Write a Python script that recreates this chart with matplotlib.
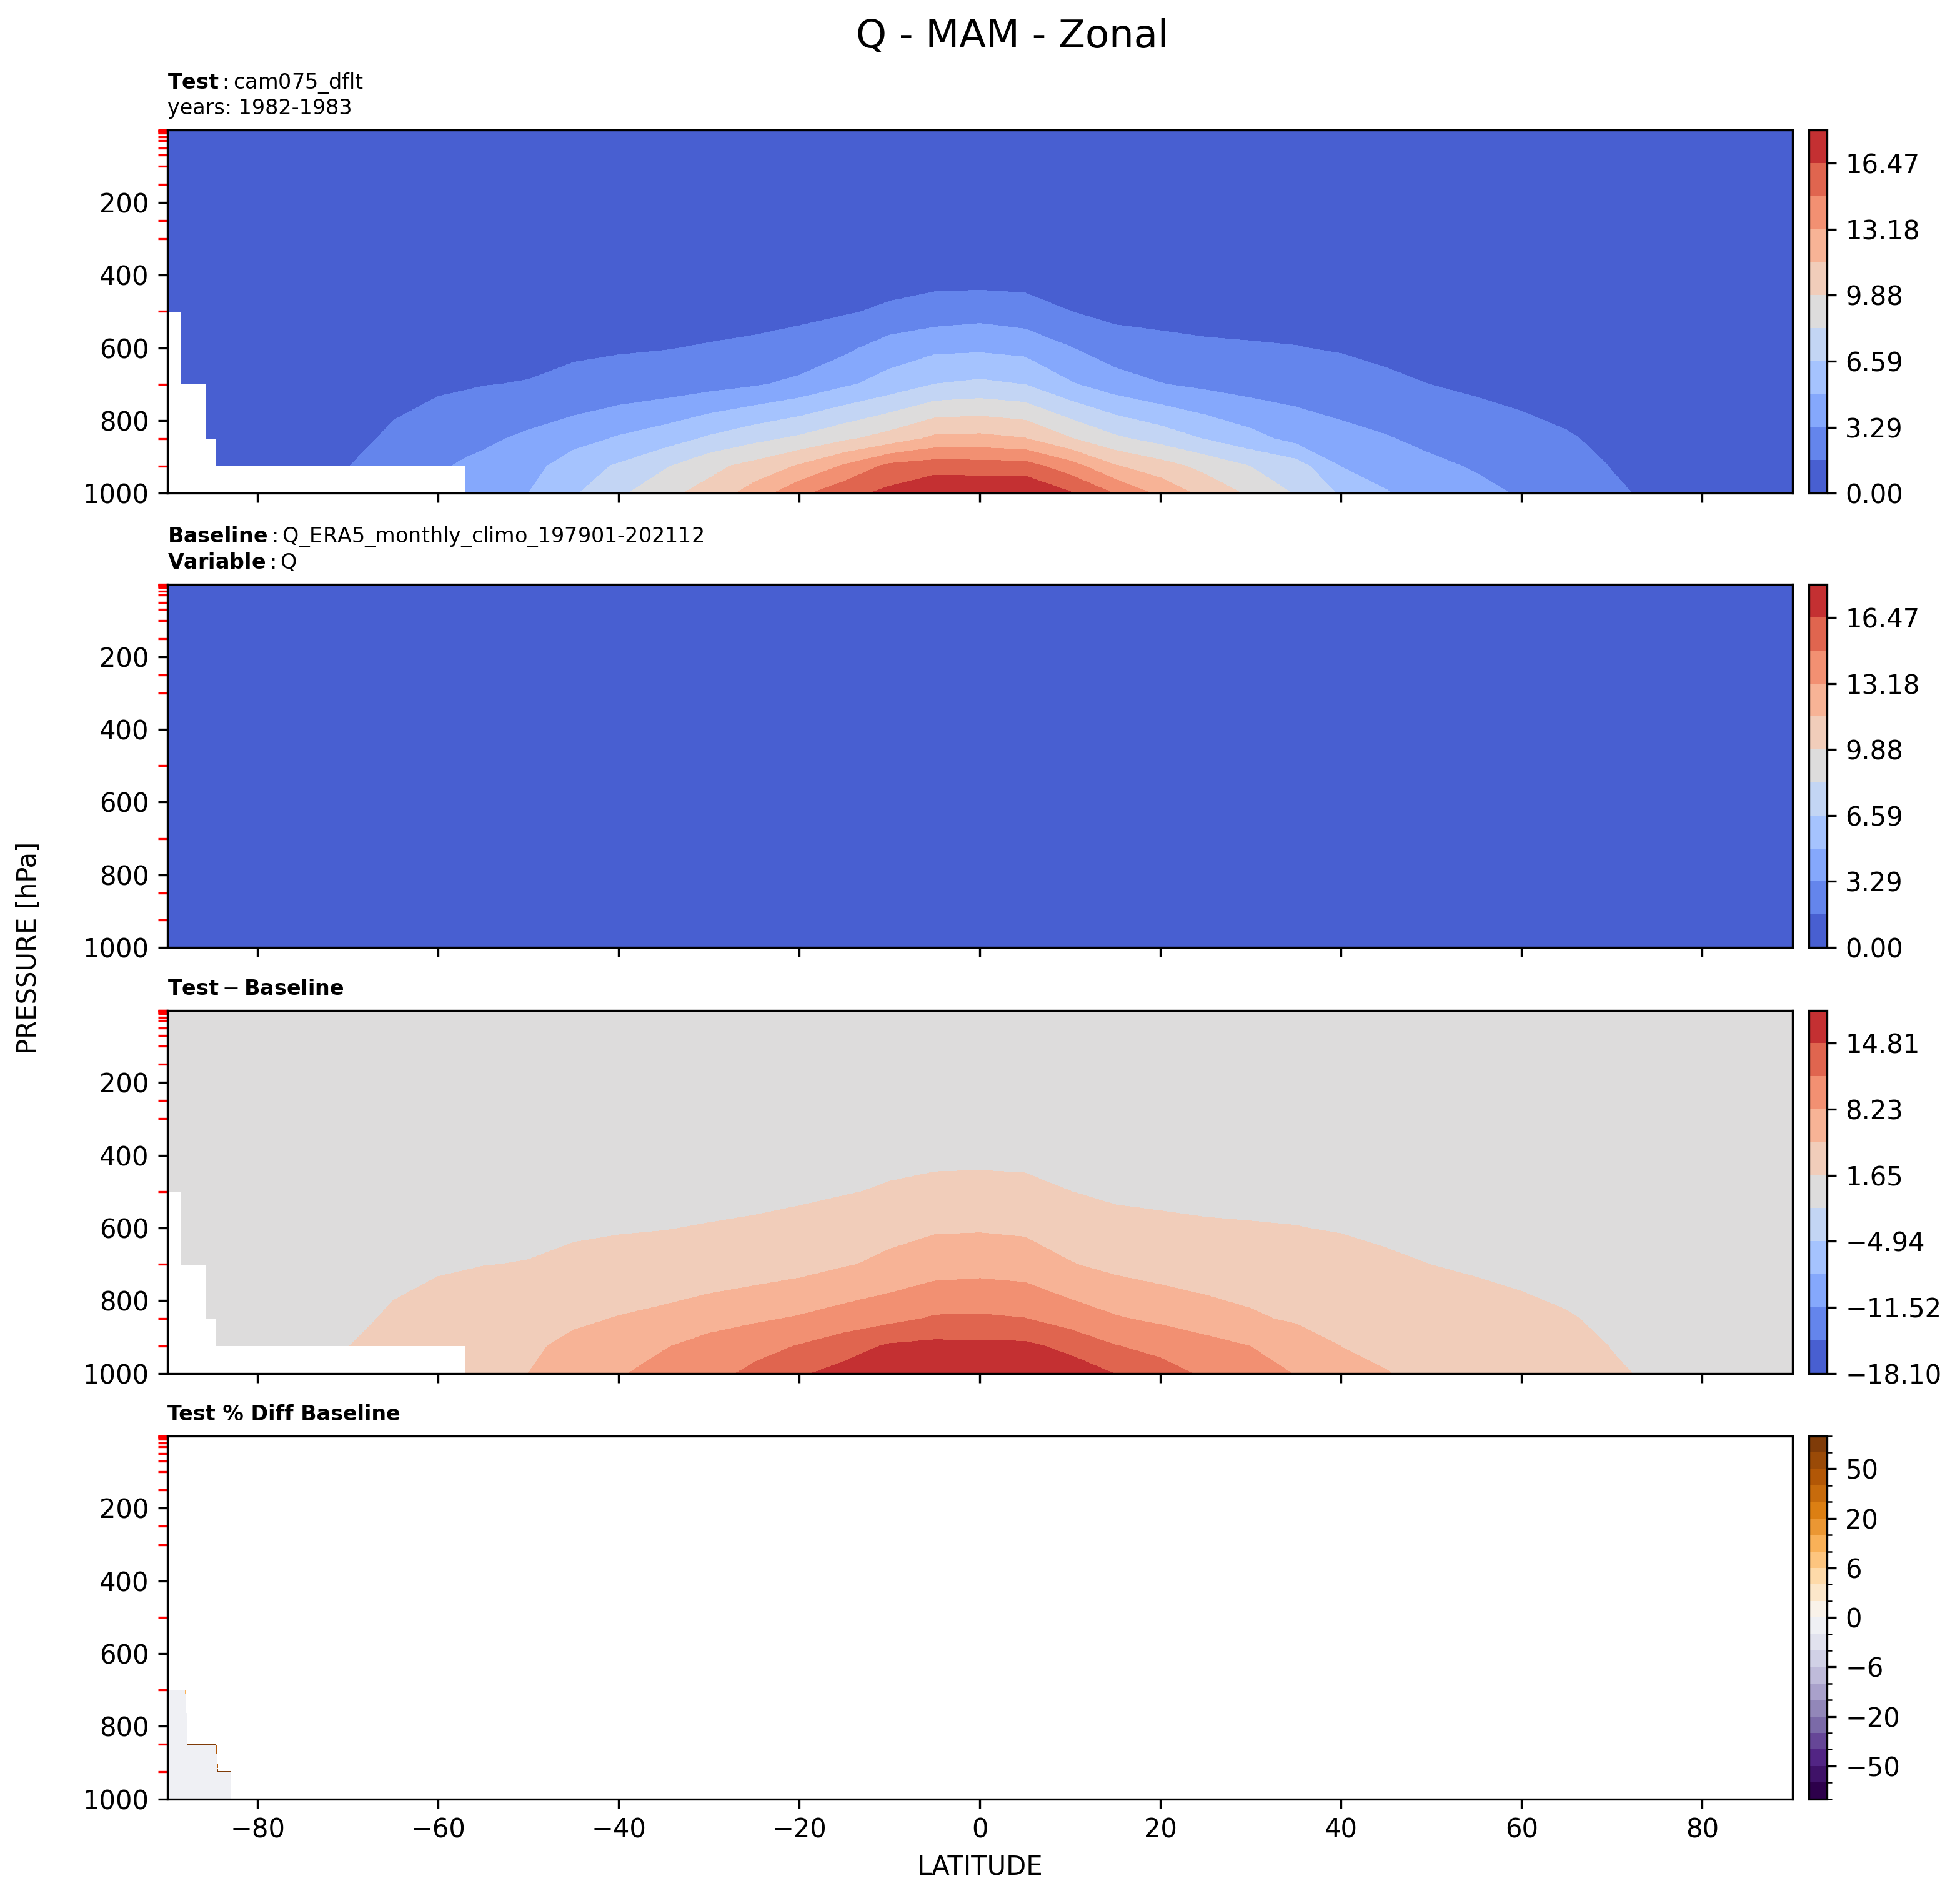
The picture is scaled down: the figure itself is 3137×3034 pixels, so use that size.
import numpy as np
import matplotlib.pyplot as plt
import matplotlib.colors as mcolors

# grid of the zonal means
lat = [-90, -88.5, -88.0, -87.8, -85.7, -84.6, -84.4, -83.0, -82.8, -80,
       -75, -70, -65, -60, -57, -55, -50, -45, -40, -35, -30, -25, -20, -15,
       -10, -5, 0, 5, 10, 15, 20, 25, 30, 35, 40, 45, 50, 55, 60, 65, 70, 75,
       80, 85, 90]
plev = [1000, 925, 850, 700, 600, 500, 400, 300, 250, 200, 150, 100, 70, 50,
        30, 20, 10, 7, 5, 3, 2, 1]

# test specific humidity, g/kg, one row per pressure level
q_1000 = [0.5, 0.5, 0.5, 0.5, 0.6, 0.6, 0.6, 0.7, 0.7, 1.1,
          1.5, 2.0, 2.6, 3.15, 3.9, 4.2, 4.95, 6.4, 7.9, 9.5, 10.4, 12.3, 14.4, 15.95,
          16.9, 18.0, 18.0, 18.12, 16.64, 14.75, 12.8, 11.0, 9.6, 8.1, 6.4, 5.05, 4.2, 3.7,
          3.15, 2.6, 1.85, 1.4, 1.1, 0.9, 0.8]
q_925 = [0.45, 0.45, 0.45, 0.5, 0.55, 0.6, 0.6, 0.7, 0.7, 1.0,
         1.2, 1.62, 2.36, 3.1, 3.5, 3.7, 4.3, 5.85, 6.77, 8.0, 9.45, 10.4, 11.7, 13.38,
         15.25, 15.7, 15.6, 15.5, 13.9, 11.65, 10.55, 9.38, 8.2, 7.33, 4.9, 4.3, 3.6, 3.15,
         2.6, 2.2, 1.6, 1.3, 1.05, 0.85, 0.75]
q_850 = [0.4, 0.4, 0.42, 0.42, 0.5, 0.55, 0.55, 0.6, 0.6, 0.9,
         1.05, 1.35, 1.82, 2.5, 2.8, 3.0, 3.6, 4.3, 5.12, 5.81, 6.84, 7.77, 8.55, 9.6,
         10.6, 11.9, 12.0, 11.6, 10.0, 8.55, 7.6, 6.5, 5.5, 4.4, 3.7, 3.4, 2.9, 2.28,
         2.0, 1.75, 1.4, 1.1, 0.9, 0.75, 0.65]
q_700 = [0.3, 0.3, 0.3, 0.3, 0.35, 0.38, 0.38, 0.42, 0.42, 0.6,
         0.7, 0.9, 1.3, 1.4, 1.5, 1.6, 1.72, 1.9, 2.14, 2.37, 2.71, 3.1, 3.72, 4.68,
         5.59, 6.6, 6.9, 6.55, 5.1, 4.03, 3.35, 2.92, 2.55, 2.5, 2.49, 2.0, 1.63, 1.45,
         1.3, 1.1, 0.9, 0.7, 0.55, 0.45, 0.4]
q_600 = [0.2, 0.2, 0.2, 0.2, 0.24, 0.26, 0.26, 0.3, 0.3, 0.4,
         0.45, 0.55, 0.8, 0.9, 1.0, 1.05, 1.15, 1.48, 1.53, 1.59, 1.74, 1.95, 2.0, 2.92,
         4.04, 4.56, 4.64, 4.4, 3.35, 2.39, 2.1, 1.9, 1.8, 1.7, 1.49, 1.22, 1.05, 0.95,
         0.85, 0.7, 0.55, 0.45, 0.35, 0.3, 0.25]
q_500 = [0.1, 0.1, 0.1, 0.1, 0.12, 0.13, 0.13, 0.15, 0.15, 0.2,
         0.25, 0.3, 0.4, 0.5, 0.55, 0.6, 0.7, 0.8, 0.9, 1.0, 1.1, 1.08, 1.42, 1.49,
         1.9, 2.33, 2.63, 2.27, 1.66, 1.22, 1.14, 1.04, 1.0, 0.95, 0.85, 0.7, 0.6, 0.5,
         0.45, 0.37, 0.3, 0.25, 0.2, 0.16, 0.14]
q_400 = [0.05, 0.05, 0.05, 0.05, 0.06, 0.06, 0.06, 0.07, 0.07, 0.1,
         0.12, 0.15, 0.2, 0.22, 0.27, 0.3, 0.35, 0.4, 0.45, 0.5, 0.55, 0.55, 0.65, 0.75,
         1.0, 1.07, 0.95, 1.05, 0.8, 0.6, 0.55, 0.5, 0.5, 0.45, 0.42, 0.35, 0.3, 0.25,
         0.22, 0.18, 0.15, 0.12, 0.1, 0.08, 0.07]
q_300 = [0.02, 0.02, 0.02, 0.02, 0.02, 0.02, 0.02, 0.03, 0.03, 0.03,
         0.04, 0.05, 0.06, 0.07, 0.08, 0.09, 0.1, 0.12, 0.14, 0.16, 0.18, 0.2, 0.24, 0.28,
         0.33, 0.36, 0.35, 0.36, 0.3, 0.24, 0.2, 0.18, 0.17, 0.16, 0.15, 0.12, 0.1, 0.08,
         0.07, 0.06, 0.05, 0.04, 0.03, 0.03, 0.02]
# 250 hPa and above: zonally flat, all in the lowest bin
q_upper = [0.06, 0.025, 0.008, 0.004, 0.003, 0.003, 0.003, 0.003, 0.003, 0.003,
           0.003, 0.003, 0.003, 0.003]

# below-ground (missing) test data: latitudes poleward of these are empty
mask_lev = [1000, 925, 850, 700, 600]
mask_lat = [-57.0, -84.6, -85.7, -88.5, -88.5]

# small patch of the % diff panel that falls in the -2..0 bin
grey_lev = [1000, 925, 850, 700]
grey_lat = [-83.0, -83.0, -84.6, -88.0]
grey_val = -1.0

pct_levels = [-100, -75, -50, -40, -30, -20, -10, -8, -6, -4, -2, 0, 2, 4, 6, 8,
              10, 20, 30, 40, 50, 75, 100]
pct_ticks = [-50, -20, -6, 0, 6, 20, 50]

lat_a = np.array(lat)
plev_a = np.array(plev)
q = np.vstack([q_1000, q_925, q_850, q_700, q_600, q_500, q_400, q_300]
              + [np.full(len(lat), v) for v in q_upper])

test = q.copy()
for lev, edge in zip(mask_lev, mask_lat):
    test[plev.index(lev), lat_a < edge] = np.nan
base = q * 1e-3  # baseline file is in kg/kg
diff = test - base
pct = (q - base) / base * 100
for lev, edge in zip(grey_lev, grey_lat):
    pct[plev.index(lev), lat_a <= edge] = grey_val

levs = np.linspace(0, np.nanmax(test), 12)
dmax = np.nanmax(np.abs(diff))
dlevs = np.linspace(-dmax, dmax, 12)


def fmt(v):
    return f"{v:.2f}".replace("-", "\u2212")


fig = plt.figure(figsize=(3137 / 300, 3034 / 300), dpi=300)
bottoms = [0.7399, 0.5003, 0.2757, 0.0512]
h = 0.1915
axs = [fig.add_axes([0.0854, b, 0.8291, h]) for b in bottoms]
caxs = [fig.add_axes([0.9229, b, 0.00924, h]) for b in bottoms]

cf0 = axs[0].contourf(lat_a, plev_a, test, levels=levs, cmap='coolwarm', corner_mask=False)
cf1 = axs[1].contourf(lat_a, plev_a, base, levels=levs, cmap='coolwarm', corner_mask=False)
cf2 = axs[2].contourf(lat_a, plev_a, diff, levels=dlevs, cmap='coolwarm', corner_mask=False)
cf3 = axs[3].contourf(lat_a, plev_a, pct, levels=pct_levels, cmap='PuOr_r',
                      norm=mcolors.BoundaryNorm(pct_levels, 256), corner_mask=False)

for cf, cax, lv in [(cf0, caxs[0], levs), (cf1, caxs[1], levs), (cf2, caxs[2], dlevs)]:
    cb = fig.colorbar(cf, cax=cax)
    cb.set_ticks(lv[::2], labels=[fmt(v) for v in lv[::2]])

cb3 = fig.colorbar(cf3, cax=caxs[3])
cb3.set_ticks(pct_ticks, labels=[str(v).replace("-", "\u2212") for v in pct_ticks])
cb3.set_ticks(pct_levels, minor=True)

for i, ax in enumerate(axs):
    ax.set_xlim(-90, 90)
    ax.set_ylim(1000, 1)
    ax.set_xticks(range(-80, 81, 20))
    ax.set_yticks([200, 400, 600, 800, 1000])
    ax.set_yticks(plev, minor=True)
    ax.tick_params(axis='y', which='minor', color='red', length=3.5, width=0.8)
    if i < 3:
        ax.tick_params(axis='x', labelbottom=False)

axs[0].set_title(r"$\mathbf{Test}:$cam075_dflt" + "\nyears: 1982-1983", loc='left', fontsize=8)
axs[1].set_title(r"$\mathbf{Baseline}:$Q_ERA5_monthly_climo_197901-202112" + "\n"
                 + r"$\mathbf{Variable}:$Q", loc='left', fontsize=8)
axs[2].set_title(r"$\mathbf{Test} - \mathbf{Baseline}$", loc='left', fontsize=8)
axs[3].set_title("Test % Diff Baseline", loc='left', fontsize=8, fontweight='bold')
axs[3].set_xlabel("LATITUDE")

fig.text(0.0147, 0.5, "PRESSURE [hPa]", rotation=90, ha='center', va='center', fontsize=10)
fig.text(0.5165, 0.975, "Q - MAM - Zonal", ha='center', va='baseline', fontsize=15)

fig.savefig("out.png", dpi=300)
